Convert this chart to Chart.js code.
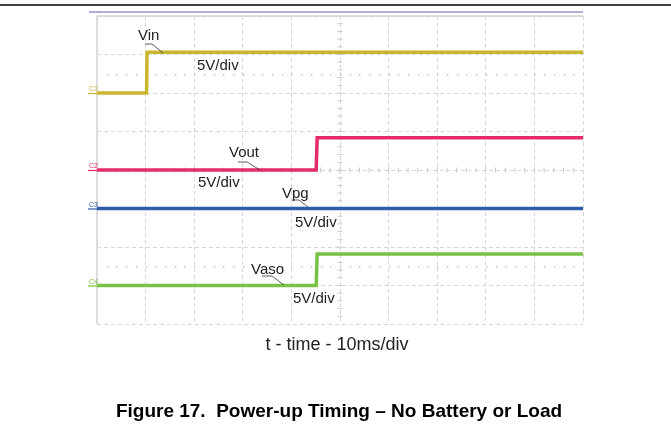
<!DOCTYPE html>
<html>
<head>
<meta charset="utf-8">
<script src="https://cdn.jsdelivr.net/npm/chart.js@4.4.1/dist/chart.umd.min.js"></script>
<style>
  html, body { margin: 0; padding: 0; background: #fff; }
  #wrap { position: relative; width: 671px; height: 442px; }
</style>
</head>
<body>
<div id="wrap"><canvas id="scopeChart" width="671" height="442"></canvas></div>
<script>
// channel data: time in ms, level in volts (5 V/div)
const channelNames = ['Vin', 'Vout', 'Vpg', 'Vaso'];
const channelTags = ['C1', 'C2', 'C3', 'C4'];
const channelColors = ['#c8b72e', '#e62a6c', '#2f5dab', '#78c245'];
const channelOffsetDiv = [6, 4, 3, 1];
const voltsPerDiv = 5;

const vinTime = [0, 10.2, 10.3, 100];
const vinVolts = [0, 0, 5.3, 5.3];
const voutTime = [0, 45.1, 45.3, 100];
const voutVolts = [0, 0, 4.2, 4.2];
const vpgTime = [0, 100];
const vpgVolts = [0, 0];
const vasoTime = [0, 45.1, 45.3, 100];
const vasoVolts = [0, 0, 4.1, 4.1];

const timeTicks = [0, 10, 20, 30, 40, 50, 60, 70, 80, 90, 100];
const divTicks = [0, 1, 2, 3, 4, 5, 6, 7, 8];

const seriesTime = [vinTime, voutTime, vpgTime, vasoTime];
const seriesVolts = [vinVolts, voutVolts, vpgVolts, vasoVolts];

const datasets = channelNames.map((name, i) => ({
    label: name,
    data: seriesTime[i].map((t, k) => ({ x: t, y: channelOffsetDiv[i] + seriesVolts[i][k] / voltsPerDiv })),
    borderColor: channelColors[i],
    borderWidth: 3.5,
    pointRadius: 0,
    showLine: true,
    fill: false,
    tension: 0
}));

// text callouts drawn on the screen (pixel positions)
const callouts = [
    { text: 'Vin', x: 138, y: 40, line: [[145, 44], [152, 44], [163, 53]] },
    { text: '5V/div', x: 197, y: 70 },
    { text: 'Vout', x: 229, y: 157, line: [[238, 162], [247, 162], [260, 170]] },
    { text: '5V/div', x: 198, y: 187 },
    { text: 'Vpg', x: 282, y: 198, line: [[292, 200], [299, 200], [308, 207]] },
    { text: '5V/div', x: 295, y: 227 },
    { text: 'Vaso', x: 251, y: 274, line: [[262, 276], [272, 276], [284, 285]] },
    { text: '5V/div', x: 293, y: 303 }
];

const scopeDecor = {
    id: 'scopeDecor',
    beforeDatasetsDraw(chart) {
        const { ctx, chartArea: a, scales: { x, y } } = chart;
        ctx.save();
        // dotted marker rows
        ctx.fillStyle = '#c4c4c4';
        [6.5, 1.5].forEach(v => {
            const py = Math.round(y.getPixelForValue(v));
            for (let t = 2; t < 100; t += 2) {
                ctx.fillRect(Math.round(x.getPixelForValue(t)), py, 1.5, 1.5);
            }
        });
        // center crosshair minor ticks
        ctx.strokeStyle = '#c8c8c8';
        ctx.lineWidth = 1;
        const cx = x.getPixelForValue(50), cy = y.getPixelForValue(4);
        ctx.beginPath();
        for (let v = 0.2; v < 8; v += 0.2) {
            const py = y.getPixelForValue(v);
            ctx.moveTo(cx - 2.5, py); ctx.lineTo(cx + 2.5, py);
        }
        for (let t = 2; t < 100; t += 2) {
            const px = x.getPixelForValue(t);
            ctx.moveTo(px, cy - 2.5); ctx.lineTo(px, cy + 2.5);
        }
        ctx.stroke();
        // solid top and left edges
        ctx.strokeStyle = '#d2d2d2';
        ctx.lineWidth = 1.5;
        ctx.beginPath();
        ctx.moveTo(a.left, a.top); ctx.lineTo(a.right, a.top);
        ctx.stroke();
        ctx.strokeStyle = '#dcdcdc';
        ctx.lineWidth = 2;
        ctx.beginPath();
        ctx.moveTo(a.left, a.top); ctx.lineTo(a.left, a.bottom);
        ctx.stroke();
        ctx.restore();
    },
    afterDraw(chart) {
        const { ctx, chartArea: a, scales: { y } } = chart;
        ctx.save();
        // page rule and scope frame line
        ctx.strokeStyle = '#000';
        ctx.lineWidth = 1.5;
        ctx.beginPath(); ctx.moveTo(0, 5); ctx.lineTo(671, 5); ctx.stroke();
        ctx.strokeStyle = '#9b93c9';
        ctx.lineWidth = 1.5;
        ctx.beginPath(); ctx.moveTo(89, a.top - 4); ctx.lineTo(a.right, a.top - 4); ctx.stroke();

        // channel tags
        ctx.font = '7px "Liberation Sans", Arial, sans-serif';
        ctx.textBaseline = 'alphabetic';
        channelTags.forEach((tag, i) => {
            const py = y.getPixelForValue(channelOffsetDiv[i]);
            ctx.fillStyle = channelColors[i];
            ctx.strokeStyle = channelColors[i];
            ctx.fillText(tag, 89, py - 2);
            ctx.lineWidth = 1.2;
            ctx.beginPath(); ctx.moveTo(88, py + 0.5); ctx.lineTo(a.left, py + 0.5); ctx.stroke();
        });

        // callouts
        ctx.fillStyle = '#222';
        ctx.strokeStyle = '#333';
        ctx.lineWidth = 0.8;
        ctx.font = '15px "Liberation Sans", Arial, sans-serif';
        callouts.forEach(c => {
            ctx.fillText(c.text, c.x, c.y);
            if (c.line) {
                ctx.beginPath();
                c.line.forEach((p, k) => k ? ctx.lineTo(p[0], p[1]) : ctx.moveTo(p[0], p[1]));
                ctx.stroke();
            }
        });

        // axis label and caption
        ctx.textAlign = 'center';
        ctx.fillStyle = '#222';
        ctx.font = '18px "Liberation Sans", Arial, sans-serif';
        ctx.fillText('t - time - 10ms/div', 337, 350);
        ctx.fillStyle = '#000';
        ctx.font = 'bold 19px "Liberation Sans", Arial, sans-serif';
        ctx.fillText('Figure 17.  Power-up Timing \u2013 No Battery or Load', 339, 417);
        ctx.restore();
    }
};

new Chart(document.getElementById('scopeChart'), {
    type: 'scatter',
    data: { datasets },
    plugins: [scopeDecor],
    options: {
        responsive: false,
        animation: false,
        layout: { padding: { left: 97, right: 88, top: 16, bottom: 118 } },
        plugins: { legend: { display: false }, tooltip: { enabled: false } },
        scales: {
            x: {
                type: 'linear', min: 0, max: 100,
                afterBuildTicks: s => { s.ticks = timeTicks.map(v => ({ value: v })); },
                ticks: { display: false },
                grid: { color: '#d6d6d6', lineWidth: 1, drawTicks: false, tickLength: 0 },
                border: { display: false, dash: [4, 3] }
            },
            y: {
                type: 'linear', min: 0, max: 8,
                afterBuildTicks: s => { s.ticks = divTicks.map(v => ({ value: v })); },
                ticks: { display: false },
                grid: { color: '#d6d6d6', lineWidth: 1, drawTicks: false, tickLength: 0 },
                border: { display: false, dash: [4, 3] }
            }
        }
    }
});
</script>
</body>
</html>
